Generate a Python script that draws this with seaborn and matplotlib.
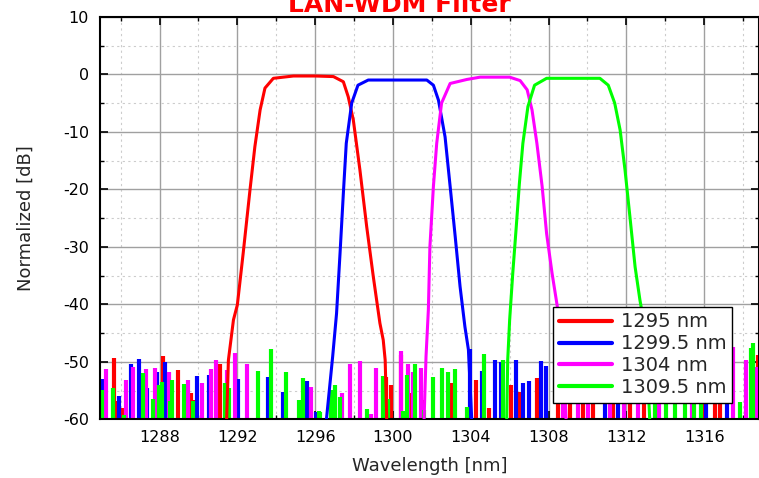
import numpy as np
import pandas as pd
import matplotlib
matplotlib.use('Agg')
import matplotlib.pyplot as plt
from matplotlib.ticker import MultipleLocator
import seaborn as sns

# ---------------------------------------------
# passband curves (wavelength nm, normalized dB)
# ---------------------------------------------
names = ['1295 nm', '1299.5 nm', '1304 nm', '1309.5 nm']
colors = ['#ff0000', '#0000ff', '#ff00ff', '#00ff00']

wl_1295 = [1291.45, 1291.54, 1291.8, 1292.0, 1292.3, 1292.65, 1292.9, 1293.17, 1293.42,
           1293.85, 1294.88, 1296.0, 1296.94, 1297.45, 1297.7, 1297.96, 1298.3, 1298.65,
           1298.99, 1299.33, 1299.5, 1299.6, 1299.68]
db_1295 = [-60, -49.7, -42.7, -40.1, -31.1, -20.1, -12.6, -6.2, -2.4,
           -0.7, -0.3, -0.3, -0.4, -1.3, -3.9, -7.9, -16.6, -26.5,
           -35.2, -43.3, -46.2, -49.7, -60]

wl_1299 = [1296.58, 1296.9, 1297.1, 1297.28, 1297.45, 1297.6, 1297.88, 1298.2, 1298.73,
           1300.0, 1301.74, 1302.08, 1302.34, 1302.68, 1302.94, 1303.2, 1303.45, 1303.7,
           1303.88, 1304.05]
db_1299 = [-60, -49.1, -41.6, -31.1, -20.7, -12.0, -5.0, -1.9, -1.0,
           -1.0, -1.0, -1.9, -4.5, -10.9, -19.5, -28.2, -36.9, -43.9,
           -47.9, -60]

wl_1304 = [1301.6, 1301.7, 1301.82, 1301.9, 1302.08, 1302.25, 1302.5, 1302.94, 1303.8,
           1304.48, 1305.16, 1306.0, 1306.54, 1306.9, 1307.15, 1307.4, 1307.67, 1307.9,
           1308.18, 1308.4, 1308.75, 1308.9]
db_1304 = [-60, -49.1, -41.0, -30.0, -19.5, -12.0, -5.0, -1.6, -0.9,
           -0.5, -0.5, -0.5, -1.1, -2.7, -6.2, -12.0, -19.5, -27.7,
           -34.6, -39.3, -47.0, -60]

wl_1309 = [1305.85, 1305.9, 1306.0, 1306.16, 1306.34, 1306.5, 1306.68, 1306.94, 1307.28,
           1307.9, 1309.0, 1310.64, 1311.07, 1311.4, 1311.68, 1311.93, 1312.2, 1312.45,
           1312.7, 1313.0, 1313.2]
db_1309 = [-60, -49.7, -42.7, -34.6, -26.5, -19.0, -12.0, -5.6, -1.9,
           -0.7, -0.7, -0.7, -1.9, -5.0, -9.7, -16.6, -25.3, -33.5,
           -39.3, -45.0, -60]

# ---------------------------------------------
# noise floor spikes (position nm, top dB), all start at -60
# ---------------------------------------------
spk_pos_1295 = [1285.66, 1285.87, 1286.13, 1288.18, 1288.95, 1289.6, 1289.76, 1291.1,
                1299.66, 1299.89, 1300.4, 1300.92, 1301.55, 1303.01, 1304.29, 1304.93,
                1306.06, 1306.55, 1307.43, 1308.49, 1309.09, 1309.77, 1310.29, 1311.32,
                1312.17, 1312.9, 1315.9, 1316.54, 1316.8, 1318.78]
spk_top_1295 = [-49.4, -56.9, -58.1, -49.0, -51.5, -55.5, -56.6, -50.3,
                -52.6, -54.0, -48.8, -55.5, -56.6, -53.7, -53.2, -58.0,
                -54.0, -55.2, -52.8, -52.0, -52.0, -52.0, -52.0, -52.0,
                -52.0, -52.0, -52.0, -52.0, -52.0, -48.8]

spk_pos_1299 = [1285.1, 1285.9, 1286.55, 1286.95, 1287.38, 1287.89, 1288.27, 1288.44,
                1289.95, 1290.55, 1292.04, 1293.58, 1294.35, 1295.6, 1296.03,
                1303.95, 1304.58, 1305.27, 1305.54, 1306.35, 1306.69, 1307.0, 1307.63,
                1307.89, 1310.9, 1311.57, 1316.1, 1317.2, 1318.6]
spk_top_1299 = [-53.0, -56.0, -50.4, -49.5, -54.5, -51.7, -50.0, -52.3,
                -52.5, -52.3, -53.0, -52.6, -55.3, -53.3, -58.8,
                -47.7, -51.6, -49.7, -50.0, -49.7, -53.7, -53.3, -49.9,
                -50.8, -52.0, -52.0, -52.0, -52.0, -58.7]

spk_pos_1304 = [1285.27, 1286.25, 1286.64, 1287.29, 1287.75, 1288.47, 1289.47, 1290.2,
                1290.67, 1290.92, 1291.49, 1291.9, 1292.5, 1295.78,
                1297.38, 1297.78, 1298.29, 1298.86, 1299.15, 1300.4, 1300.78, 1301.03,
                1301.43, 1308.75, 1309.5, 1310.03, 1311.15, 1311.88, 1312.6, 1313.7,
                1315.35, 1317.49, 1318.13, 1318.7]
spk_top_1304 = [-51.3, -53.2, -50.9, -51.3, -51.0, -51.7, -53.2, -53.7,
                -51.3, -49.7, -51.4, -48.5, -50.3, -54.3,
                -55.5, -50.3, -49.9, -59.0, -51.0, -48.2, -50.3, -51.7,
                -51.0, -52.0, -52.0, -52.0, -52.0, -52.0, -52.0, -52.0,
                -52.0, -47.4, -49.7, -50.9]

spk_pos_1309 = [1285.05, 1285.61, 1286.18, 1287.15, 1287.67, 1287.98, 1288.15, 1288.53,
                1288.65, 1289.26, 1289.72, 1291.39, 1291.58, 1293.07, 1293.75, 1294.49,
                1295.18, 1295.38, 1296.19, 1296.24, 1296.84, 1297.01, 1297.26, 1298.69,
                1299.49, 1299.75, 1300.52, 1300.74, 1301.12, 1301.6, 1302.06, 1302.53,
                1302.83, 1303.21, 1303.83, 1304.69, 1305.66, 1313.46, 1314.06, 1314.5,
                1315.0, 1315.5, 1315.86, 1317.83, 1318.39, 1318.5]
spk_top_1309 = [-54.9, -54.6, -59.3, -52.0, -56.4, -54.0, -53.5, -56.9,
                -53.2, -53.9, -56.9, -53.7, -54.6, -51.6, -47.8, -51.8,
                -56.6, -52.9, -58.6, -58.7, -54.9, -54.0, -56.1, -58.2,
                -52.4, -56.4, -58.6, -52.3, -50.3, -58.4, -52.6, -51.1,
                -51.7, -51.3, -57.8, -48.7, -49.7, -52.0, -52.0, -52.0,
                -52.0, -52.0, -52.0, -57.0, -47.6, -46.8]

# ---------------------------------------------
# plot
# ---------------------------------------------
sns.set_style('ticks')
plt.rcParams['font.family'] = ['DejaVu Sans']
plt.rcParams['axes.unicode_minus'] = False

curves = [(names[0], wl_1295, db_1295), (names[1], wl_1299, db_1299),
          (names[2], wl_1304, db_1304), (names[3], wl_1309, db_1309)]
df = pd.concat([pd.DataFrame({'wavelength': w, 'dB': d, 'filter': n}) for n, w, d in curves],
               ignore_index=True)

spikes = [(spk_pos_1295, spk_top_1295), (spk_pos_1299, spk_top_1299),
          (spk_pos_1304, spk_top_1304), (spk_pos_1309, spk_top_1309)]

fig = plt.figure(figsize=(7.59, 4.78), dpi=100)
ax = fig.add_axes([0.1318, 0.1228, 0.8682, 0.8421])

for (pos, top), c in zip(spikes, colors):
    ax.vlines(pos, -60, top, colors=c, lw=3, zorder=2)

sns.lineplot(data=df, x='wavelength', y='dB', hue='filter', hue_order=names,
             palette=dict(zip(names, colors)), sort=False, estimator=None,
             lw=2.2, ax=ax, zorder=3)

ax.set_xlim(1284.94, 1318.82)
ax.set_ylim(-60, 10)
ax.xaxis.set_major_locator(MultipleLocator(4))
ax.xaxis.set_minor_locator(MultipleLocator(2))
ax.yaxis.set_major_locator(MultipleLocator(10))
ax.yaxis.set_minor_locator(MultipleLocator(5))
ax.set_xticks(np.arange(1288, 1318, 4))

ax.grid(which='major', color='#a0a0a0', lw=1.0, ls='-', zorder=0)
ax.grid(which='minor', color='#cccccc', lw=0.8, ls=(0, (2, 3)), zorder=0)
ax.set_axisbelow(True)

ax.tick_params(which='both', direction='in', top=True, right=True, colors='black',
               labelsize=11.5, pad=8)
ax.tick_params(which='major', length=6, width=1.2)
ax.tick_params(which='minor', length=3, width=1.0)
for sp in ax.spines.values():
    sp.set_linewidth(1.5)
    sp.set_color('black')

ax.set_xlabel('Wavelength [nm]', fontsize=13, labelpad=8)
ax.set_ylabel('Normalized [dB]', fontsize=13, labelpad=20)

handles, labels = ax.get_legend_handles_labels()
leg = ax.legend(handles, labels, loc='lower right', bbox_to_anchor=(0.959, 0.0405),
                fontsize=14, frameon=True, fancybox=False, edgecolor='black',
                framealpha=1, handlelength=2.7, handletextpad=0.45, labelspacing=0.15,
                borderpad=0.3, borderaxespad=0)
leg.get_frame().set_linewidth(1.0)
for line in leg.get_lines():
    line.set_linewidth(3)

fig.text(0.5257, 0.9755, 'LAN-WDM Filter', ha='center', va='baseline',
         color='red', fontsize=18, fontweight='bold')

fig.savefig('out.png', dpi=100)
